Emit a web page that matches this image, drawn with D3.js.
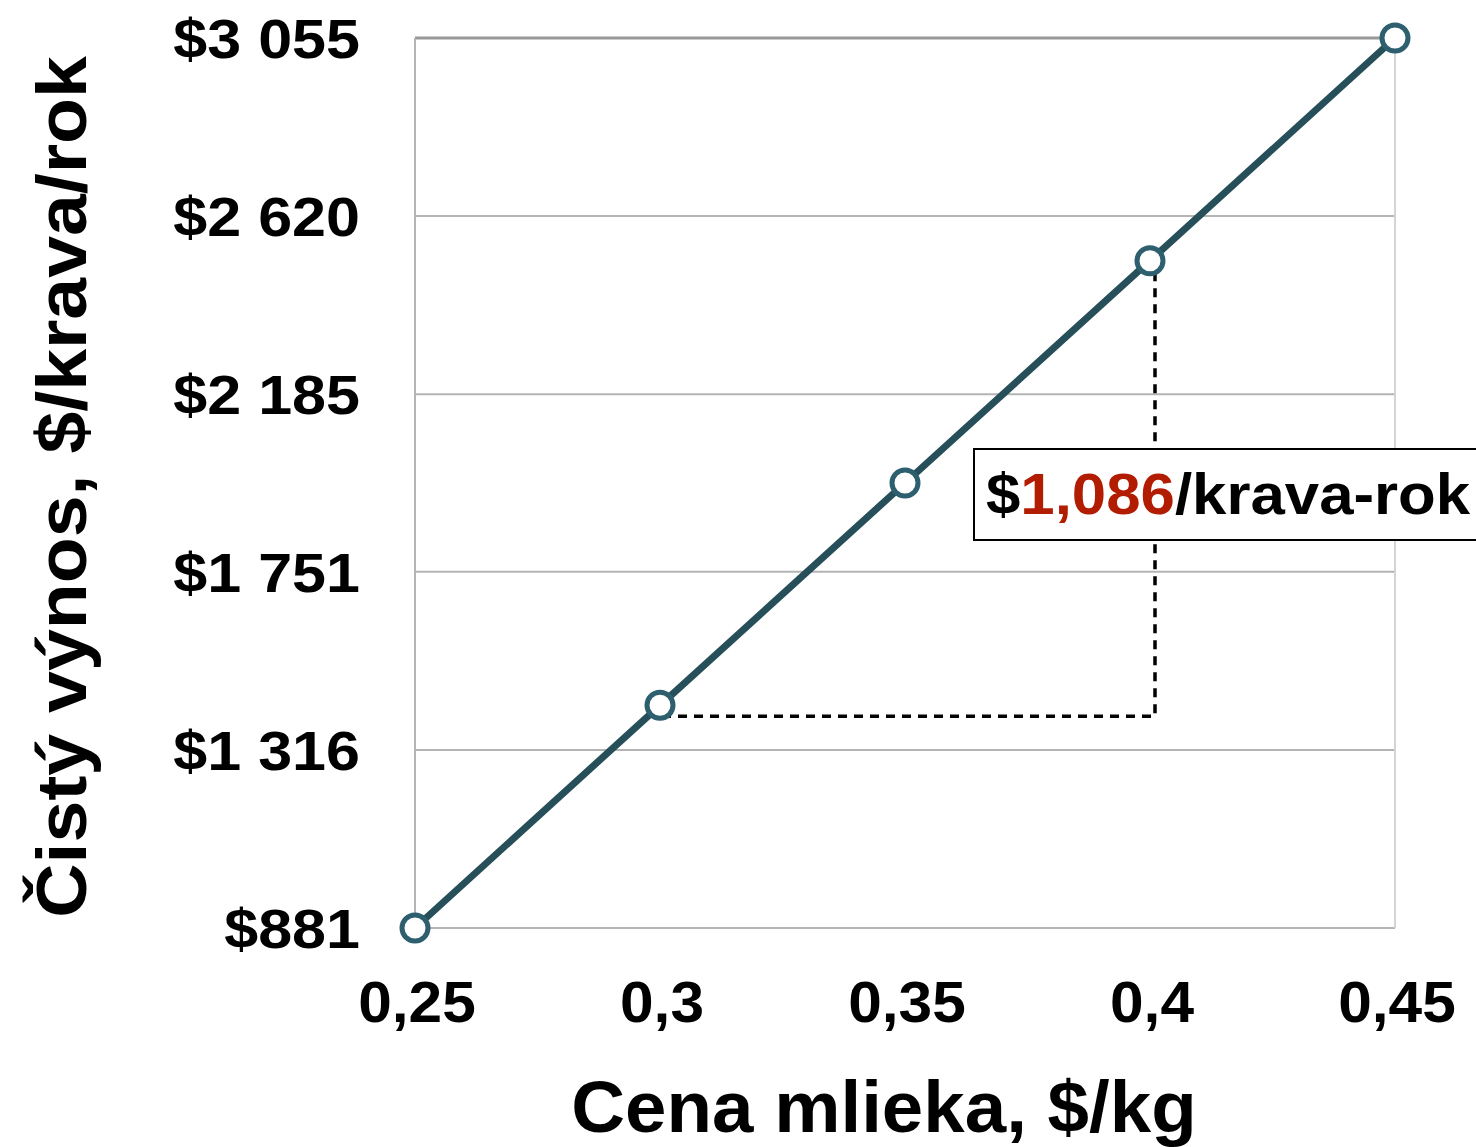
<!DOCTYPE html>
<html>
<head>
<meta charset="utf-8">
<script src="https://cdn.jsdelivr.net/npm/d3@7"></script>
<style>
  body { margin: 0; background: #fff; }
  text { font-family: "Liberation Sans", Arial, Helvetica, sans-serif; font-weight: bold; }
</style>
</head>
<body>
<svg id="chart" width="1476" height="1147"></svg>
<script>
// data
var prices = [0.25, 0.3, 0.35, 0.4, 0.45];
var income = [881, 1425, 1968, 2511, 3055];
var yTicks = [881, 1316, 1751, 2185, 2620, 3055];
var yTickLabels = ["$881", "$1 316", "$1 751", "$2 185", "$2 620", "$3 055"];
var xTicks = [0.25, 0.3, 0.35, 0.4, 0.45];
var xTickLabels = ["0,25", "0,3", "0,35", "0,4", "0,45"];
var diffFrom = 0.3, diffTo = 0.4;
var diffLabel = ["$", "1,086", "/krava-rok"];

var svg = d3.select("#chart");
var x = d3.scaleLinear().domain([0.25, 0.45]).range([415, 1395]);
var y = d3.scaleLinear().domain([881, 3055]).range([928, 38]);

// the original text is a bit wider than the font
function place(px, py, sx) {
  return "translate(" + px + "," + py + ") scale(" + sx + ",1)";
}

/* grid lines */
svg.selectAll("line.grid")
  .data(yTicks)
  .enter().append("line")
  .attr("class", "grid")
  .attr("x1", x(0.25)).attr("x2", x(0.45))
  .attr("y1", function(d) { return y(d); })
  .attr("y2", function(d) { return y(d); })
  .attr("stroke", function(d, i) { return i == yTicks.length - 1 ? "#999" : "#b4b4b4"; })
  .attr("stroke-width", function(d, i) { return i == yTicks.length - 1 ? 3 : 2; });

// plot borders left / right
svg.append("line")
  .attr("x1", x(0.25)).attr("x2", x(0.25))
  .attr("y1", y(3055)).attr("y2", y(881))
  .attr("stroke", "#b4b4b4").attr("stroke-width", 2);
svg.append("line")
  .attr("x1", x(0.45)).attr("x2", x(0.45))
  .attr("y1", y(3055)).attr("y2", y(881))
  .attr("stroke", "#d4d4d4").attr("stroke-width", 2);

/* tick labels */
svg.selectAll("text.ytick")
  .data(yTicks)
  .enter().append("text")
  .attr("class", "ytick")
  .attr("transform", function(d) { return place(360, y(d) + 20, 1.09); })
  .attr("text-anchor", "end")
  .style("font-size", "56px")
  .text(function(d, i) { return yTickLabels[i]; });

svg.selectAll("text.xtick")
  .data(xTicks)
  .enter().append("text")
  .attr("class", "xtick")
  .attr("transform", function(d) { return place(x(d) + 2, 1022, 1.06); })
  .attr("text-anchor", "middle")
  .style("font-size", "57px")
  .text(function(d, i) { return xTickLabels[i]; });

/* axis titles */
svg.append("text")
  .attr("transform", place(884, 1132, 1.035))
  .attr("text-anchor", "middle")
  .style("font-size", "72px")
  .text("Cena mlieka, $/kg");

svg.append("text")
  .attr("transform", "translate(86,487) rotate(-90) scale(1.06,1)")
  .attr("text-anchor", "middle")
  .style("font-size", "71px")
  .text("Čistý výnos, $/krava/rok");

/* dashed helper lines */
var pFrom = income[prices.indexOf(diffFrom)];
var pTo = income[prices.indexOf(diffTo)];
svg.append("path")
  .attr("d", "M" + (x(diffFrom) + 2) + "," + (y(pFrom) + 11) +
             "H" + (x(diffTo) + 5) +
             "V" + (y(pTo) + 8))
  .attr("fill", "none")
  .attr("stroke", "#000")
  .attr("stroke-width", 3.5)
  .attr("stroke-dasharray", "9,7");

/* line + markers */
var line = d3.line()
  .x(function(d) { return x(d); })
  .y(function(d, i) { return y(income[i]); });

svg.append("path")
  .datum(prices)
  .attr("d", line)
  .attr("fill", "none")
  .attr("stroke", "#264f5a")
  .attr("stroke-width", 7);

svg.selectAll("circle.pt")
  .data(prices)
  .enter().append("circle")
  .attr("class", "pt")
  .attr("cx", function(d) { return x(d); })
  .attr("cy", function(d, i) { return y(income[i]); })
  .attr("r", 13)
  .attr("fill", "#fff")
  .attr("stroke", "#2d5f6e")
  .attr("stroke-width", 5);

/* difference label box */
var boxY = (y(pFrom) + y(pTo)) / 2 + 11;
svg.append("rect")
  .attr("x", x(diffTo) - 176)
  .attr("y", boxY - 45)
  .attr("width", 520)
  .attr("height", 91)
  .attr("fill", "#fff")
  .attr("stroke", "#000")
  .attr("stroke-width", 2);

var lbl = svg.append("text")
  .attr("transform", place(x(diffTo) - 164, boxY + 20, 1.065))
  .style("font-size", "58px");
lbl.selectAll("tspan")
  .data(diffLabel)
  .enter().append("tspan")
  .attr("fill", function(d, i) { return i == 1 ? "#b21c00" : "#000"; })
  .text(function(d) { return d; });
</script>
</body>
</html>
